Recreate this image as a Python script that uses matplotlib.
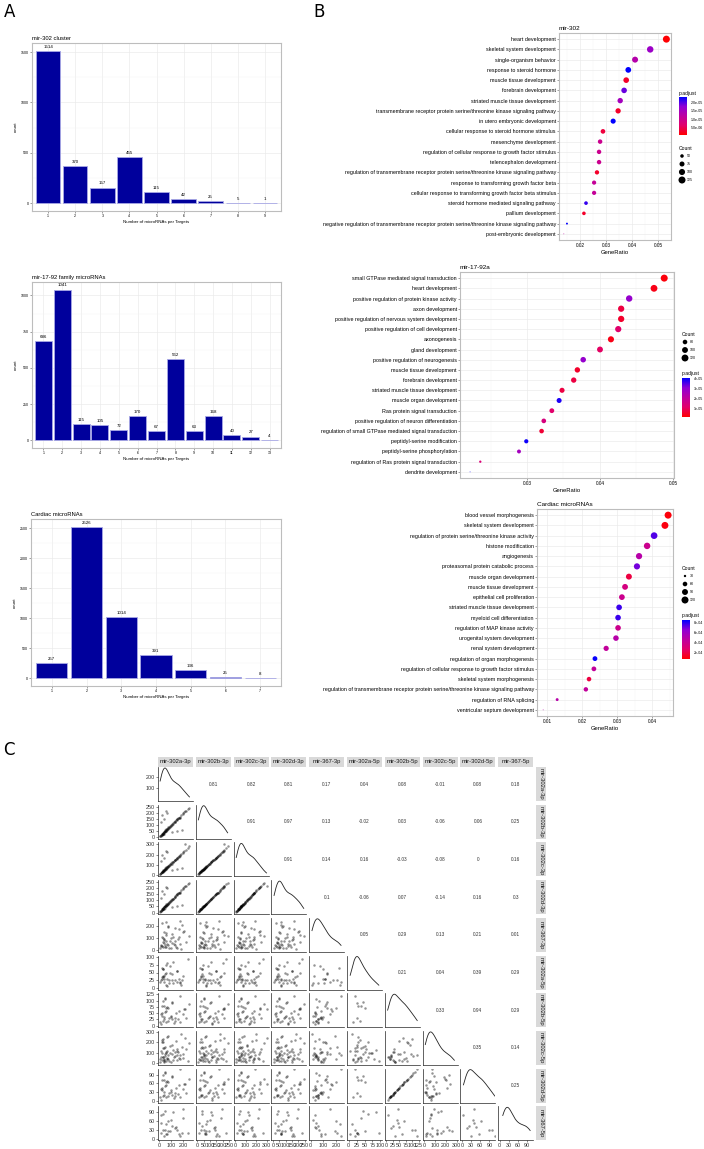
import numpy as np
import matplotlib
matplotlib.use('Agg')
import matplotlib.pyplot as plt
from matplotlib.colors import LinearSegmentedColormap, Normalize
from matplotlib.cm import ScalarMappable
from matplotlib.patches import Rectangle
from matplotlib.ticker import MultipleLocator

plt.rcParams['font.family'] = ['Liberation Sans', 'DejaVu Sans']

# ---- panel A data (targets per number of microRNAs)
a1_title = 'mir-302 cluster'
a1_counts = [1514, 370, 157, 455, 115, 42, 25, 5, 1]
a2_title = 'mir-17-92 family microRNAs'
a2_counts = [686, 1041, 115, 105, 72, 170, 67, 562, 63, 168, 40, 27, 4]
a3_title = 'Cardiac microRNAs'
a3_counts = [257, 2526, 1014, 391, 136, 25, 8]

# ---- panel B data (GO enrichment)
b1_terms = ['heart development', 'skeletal system development', 'single-organism behavior',
            'response to steroid hormone', 'muscle tissue development', 'forebrain development',
            'striated muscle tissue development',
            'transmembrane receptor protein serine/threonine kinase signaling pathway',
            'in utero embryonic development', 'cellular response to steroid hormone stimulus',
            'mesenchyme development', 'regulation of cellular response to growth factor stimulus',
            'telencephalon development',
            'regulation of transmembrane receptor protein serine/threonine kinase signaling pathway',
            'response to transforming growth factor beta',
            'cellular response to transforming growth factor beta stimulus',
            'steroid hormone mediated signaling pathway', 'pallium development',
            'negative regulation of transmembrane receptor protein serine/threonine kinase signaling pathway',
            'post-embryonic development']
b1_ratio = [0.0531, 0.0469, 0.0411, 0.0385, 0.0377, 0.0369, 0.0354, 0.0346, 0.0327, 0.0288,
            0.0277, 0.0273, 0.0273, 0.0265, 0.0254, 0.0254, 0.0223, 0.0215, 0.0150, 0.0138]
b1_count = [125, 110, 97, 91, 89, 87, 83, 81, 77, 68, 65, 64, 64, 62, 60, 60, 52, 51, 35, 32]
b1_padj = [1.0e-6, 1.6e-5, 1.3e-5, 2.3e-5, 3.0e-6, 1.9e-5, 1.5e-5, 3.0e-6, 2.3e-5, 4.0e-6,
           1.0e-5, 1.0e-5, 1.0e-5, 3.0e-6, 1.1e-5, 1.1e-5, 2.1e-5, 3.0e-6, 2.3e-5, 1.2e-5]

b2_terms = ['small GTPase mediated signal transduction', 'heart development',
            'positive regulation of protein kinase activity', 'axon development',
            'positive regulation of nervous system development',
            'positive regulation of cell development', 'axonogenesis', 'gland development',
            'positive regulation of neurogenesis', 'muscle tissue development',
            'forebrain development', 'striated muscle tissue development',
            'muscle organ development', 'Ras protein signal transduction',
            'positive regulation of neuron differentiation',
            'regulation of small GTPase mediated signal transduction',
            'peptidyl-serine modification', 'peptidyl-serine phosphorylation',
            'regulation of Ras protein signal transduction', 'dendrite development']
b2_ratio = [0.0488, 0.0474, 0.0440, 0.0429, 0.0429, 0.0425, 0.0415, 0.0400, 0.0377, 0.0369,
            0.0364, 0.0348, 0.0344, 0.0334, 0.0323, 0.0320, 0.0299, 0.0289, 0.0236, 0.0222]
b2_count = [122, 118, 110, 107, 107, 106, 104, 100, 94, 92, 91, 87, 86, 83, 81, 80, 75, 72, 59, 55]
b2_padj = [3e-6, 4e-6, 3.0e-5, 8e-6, 6e-6, 1.2e-5, 4e-6, 1.1e-5, 3.0e-5, 6e-6,
           8e-6, 8e-6, 3.9e-5, 1.2e-5, 1.5e-5, 7e-6, 4.0e-5, 2.7e-5, 1.4e-5, 4.0e-5]

b3_terms = ['blood vessel morphogenesis', 'skeletal system development',
            'regulation of protein serine/threonine kinase activity', 'histone modification',
            'angiogenesis', 'proteasomal protein catabolic process', 'muscle organ development',
            'muscle tissue development', 'epithelial cell proliferation',
            'striated muscle tissue development', 'myeloid cell differentiation',
            'regulation of MAP kinase activity', 'urogenital system development',
            'renal system development', 'regulation of organ morphogenesis',
            'regulation of cellular response to growth factor stimulus',
            'skeletal system morphogenesis',
            'regulation of transmembrane receptor protein serine/threonine kinase signaling pathway',
            'regulation of RNA splicing', 'ventricular septum development']
b3_ratio = [0.0446, 0.0437, 0.0406, 0.0386, 0.0363, 0.0357, 0.0334, 0.0323, 0.0314, 0.0306,
            0.0303, 0.0303, 0.0297, 0.0269, 0.0237, 0.0234, 0.0220, 0.0211, 0.0129, 0.0089]
b3_count = [120, 118, 110, 104, 98, 96, 90, 87, 85, 83, 82, 82, 80, 73, 64, 63, 59, 57, 35, 24]
b3_padj = [1.0e-4, 1.1e-4, 7.5e-4, 4.0e-4, 5.0e-4, 7.0e-4, 2.0e-4, 3.5e-4, 4.0e-4, 7.8e-4,
           7.8e-4, 4.0e-4, 5.0e-4, 4.5e-4, 8.5e-4, 4.5e-4, 2.0e-4, 4.5e-4, 5.0e-4, 5.0e-4]

# ---- panel C data (pairs of expression per target)
NA = np.nan
mir_names = ['mir-302a-3p', 'mir-302b-3p', 'mir-302c-3p', 'mir-302d-3p', 'mir-367-3p',
             'mir-302a-5p', 'mir-302b-5p', 'mir-302c-5p', 'mir-302d-5p', 'mir-367-5p']
v302a_3p = [6, 12, 18, 24, 30, 35, 41, 47, 52, 58, 63, 70, 76, 83, 90, 98, 105, 114, 122, 131,
            140, 150, 161, 172, 185, 198, 212, 226, 240, 255, 9, 15, 21, 27, 33, 38, 44, 50, 56, 62,
            68, 74, 81, 88, 96, 104, 118, 135, 152, 170, 14, 26, 39, 53, 67, 110, 145, 190, 20, 32,
            45, 150, 175, 200, 28, 40, 60, 130, 165, 220]
v302b_3p = [10, 15, 20, 22, 35, 30, 45, 50, 48, 62, 60, 72, 80, 78, 95, 92, 110, 108, 120, 128,
            138, 145, 155, 168, 178, 190, 205, 215, 228, 240, 8, 12, 25, 30, 28, 42, 40, 55, 52, 66,
            64, 70, 85, 84, 100, 98, 112, 130, 148, 160, 120, 180, 150, 210, 200, 40, 50, 60, 25, 38,
            50, 140, 160, 195, 30, 45, 65, 125, 158, 210]
v302c_3p = [12, 18, 26, 28, 40, 36, 52, 58, 56, 72, 70, 84, 92, 90, 110, 106, 126, 124, 138, 148,
            158, 166, 178, 192, 204, 218, 235, 246, 262, 280, 10, 15, 30, 34, 32, 48, 46, 63, 60, 76,
            74, 80, 98, 96, 115, 112, 128, 150, 170, 184, 135, 200, 170, 240, 226, 48, 58, 70, 30, 44,
            56, 160, 182, 225, 35, 52, 75, 142, 180, 300]
v302d_3p = [11, 16, 21, 24, 36, 31, 46, 52, 50, 64, 61, 74, 82, 80, 97, 94, 112, 110, 122, 131,
            140, 148, 158, 170, 181, 193, 208, 218, 231, 244, 9, 13, 26, 31, 29, 43, 41, 57, 54, 67,
            66, 72, 87, 85, 102, 100, 115, 132, 150, 163, 118, 178, 152, 212, 203, 42, 52, 63, 27, 40,
            52, 142, 163, 198, 32, 47, 67, 128, 160, 213]
v367_3p = [20, NA, 35, 110, NA, 60, 150, NA, 25, 80, NA, 45, 200, 15, NA, 100, 130, NA, 55, 180,
           30, NA, 90, 240, 10, NA, 160, 70, NA, 120, NA, 40, 220, NA, 65, 95, NA, 30, 140, NA,
           50, 190, NA, 75, 20, NA, 105, 45, NA, 170, 35, NA, 85, 125, NA, 60, 15, 210, NA, 100,
           40, NA, 55, 150, 25, NA, 230, 80, 110, NA]
v302a_5p = [NA, 25, NA, 30, 60, NA, 20, NA, 75, NA, 30, NA, NA, 15, 50, NA, 45, 85, NA, 25,
            NA, 55, NA, 20, 10, 40, NA, NA, 95, NA, 20, NA, 65, 35, NA, 30, 45, NA, NA, 5,
            NA, NA, 25, 70, NA, 25, 15, NA, 55, NA, NA, 35, NA, 50, 80, NA, NA, 25, NA, 60,
            NA, 20, 15, NA, 40, 40, 10, NA, 30, NA]
v302b_5p = [15, NA, 40, 80, NA, 25, NA, 110, NA, 60, NA, 20, 70, NA, NA, 35, 95, NA, 10, NA,
            50, NA, 25, 120, NA, NA, 65, 30, NA, 85, NA, 45, NA, 20, 100, NA, NA, 55, 15, NA,
            75, NA, 30, NA, 40, 90, NA, 20, NA, 60, 5, NA, 35, 70, NA, 25, NA, NA, 50, NA,
            105, NA, 15, 45, NA, 80, NA, 30, NA, 65]
v302c_5p = [40, 120, NA, 200, 60, 30, 150, NA, 100, 20, 250, 80, 45, NA, 170, 10, 90, 130, 60, NA,
            210, 35, 110, 75, 280, 55, NA, 140, 25, 190, 15, NA, 100, 65, 230, 40, 160, 85, NA, 120,
            50, 260, 20, 95, NA, 180, 30, 70, 135, NA, 60, 225, 15, 105, 45, NA, 80, 160, 30, 200,
            70, 120, 40, 90, 150, 20, NA, 110, 55, 240]
v302d_5p = [13, NA, 36, 72, NA, 22, NA, 98, NA, 55, NA, 18, 64, NA, NA, 32, 85, NA, 9, NA,
            45, NA, 23, 108, NA, NA, 58, 27, NA, 76, NA, 41, NA, 18, 90, NA, NA, 50, 14, NA,
            68, NA, 27, NA, 37, 81, NA, 18, NA, 54, 5, NA, 31, 63, NA, 22, NA, NA, 45, NA,
            95, NA, 13, 40, NA, 72, NA, 27, NA, 59]
v367_5p = [NA, 20, NA, NA, 85, NA, NA, 30, NA, 15, NA, NA, 60, NA, 25, NA, NA, 90, NA, NA,
           40, NA, NA, 10, NA, 70, NA, NA, 20, NA, NA, 55, NA, NA, 30, NA, 95, NA, NA, 15,
           NA, 25, NA, NA, 65, NA, NA, 35, NA, NA, 80, NA, 10, NA, NA, 45, NA, 20, NA, NA,
           NA, 30, NA, 100, NA, NA, 50, NA, 15, NA]
corr_text = [
    ['0.81', '0.82', '0.81', '0.17', '0.04', '0.08', '-0.01', '0.08', '0.18'],
    ['0.91', '0.97', '0.13', '-0.02', '0.03', '-0.06', '0.06', '0.25'],
    ['0.91', '0.14', '0.16', '-0.03', '-0.08', '0', '0.16'],
    ['0.1', '-0.06', '0.07', '-0.14', '0.16', '0.3'],
    ['0.05', '0.29', '0.13', '0.21', '0.01'],
    ['0.21', '0.04', '0.39', '0.29'],
    ['0.33', '0.94', '0.29'],
    ['0.35', '0.14'],
    ['0.25'],
]
axis_lims = [(-12, 285), (-12, 265), (-15, 320), (-12, 265), (-12, 265),
             (-5, 105), (-6, 130), (-15, 310), (-5, 110), (-5, 110)]
axis_ticks = [[0, 100, 200], [0, 50, 100, 150, 200, 250], [0, 100, 200, 300],
              [0, 50, 100, 150, 200, 250], [0, 100, 200], [0, 25, 50, 75, 100],
              [0, 25, 50, 75, 100, 125], [0, 100, 200, 300], [0, 30, 60, 90], [0, 30, 60, 90]]

W, H = 704, 1149
fig = plt.figure(figsize=(W / 100, H / 100), dpi=100)


def px_axes(x0, y0, x1, y1):
    return fig.add_axes([x0 / W, 1 - y1 / H, (x1 - x0) / W, (y1 - y0) / H])


cmap = LinearSegmentedColormap.from_list(
    'padj', ['#FF0000', '#E2006A', '#BE00A0', '#9000D4', '#0000FF'])


def bar_panel(box, title, values, ystep):
    ax = px_axes(*box)
    xs = np.arange(1, len(values) + 1)
    ax.bar(xs, values, width=0.9, color='#00009C', edgecolor='#A8A8E6', linewidth=0.6, zorder=3)
    for x, v in zip(xs, values):
        ax.annotate(str(v), (x, v), xytext=(0, 1.5), textcoords='offset points',
                    ha='center', va='bottom', fontsize=3.2)
    top = max(values)
    ax.set_xlim(0.4, len(values) + 0.6)
    ax.set_ylim(-top * 0.05, top * 1.05)
    ax.set_xticks(xs)
    ax.yaxis.set_major_locator(MultipleLocator(ystep))
    ax.yaxis.set_minor_locator(MultipleLocator(ystep / 2))
    ax.set_axisbelow(True)
    ax.grid(which='major', color='#EBEBEB', lw=0.5)
    ax.grid(which='minor', axis='y', color='#F4F4F4', lw=0.3)
    for s in ax.spines.values():
        s.set_color('#BDBDBD')
        s.set_linewidth(0.8)
    ax.tick_params(labelsize=2.6, length=1.2, width=0.4, color='#555555', pad=1)
    ax.tick_params(which='minor', length=0)
    ax.set_xlabel('Number of microRNAs per Targets', fontsize=3.2, labelpad=1.5)
    ax.set_ylabel('count', fontsize=3.2, labelpad=2)
    ax.set_title(title, loc='left', fontsize=4.2, pad=2)


bar_panel((32, 43, 281, 211), a1_title, a1_counts, 500)
bar_panel((32, 282, 281, 448), a2_title, a2_counts, 250)
bar_panel((31, 519, 281, 686), a3_title, a3_counts, 500)


def dot_size(c, cmin, cmax):
    r = (np.asarray(c, float) - cmin) / (cmax - cmin)
    d = 0.8 + np.sqrt(np.clip(r, 0, 1)) * 6.2
    return (d * 0.72) ** 2


def dot_panel(box, title, terms, ratio, count, padj, xlim, xticks, norm):
    ax = px_axes(*box)
    y = np.arange(len(terms))
    ax.scatter(ratio, y, s=dot_size(count, min(count), max(count)), c=padj, cmap=cmap,
               norm=norm, linewidths=0, zorder=3)
    ax.set_yticks(y)
    ax.set_yticklabels(terms)
    ax.set_ylim(len(terms) - 0.4, -0.6)
    ax.set_xlim(*xlim)
    ax.set_xticks(xticks)
    ax.set_xticklabels(['%g' % t for t in xticks])
    ax.xaxis.set_minor_locator(MultipleLocator(0.005))
    ax.set_axisbelow(True)
    ax.grid(which='major', color='#EBEBEB', lw=0.5)
    ax.grid(which='minor', axis='x', color='#F4F4F4', lw=0.3)
    for s in ax.spines.values():
        s.set_color('#BDBDBD')
        s.set_linewidth(0.8)
    ax.tick_params(axis='y', labelsize=3.85, length=1.2, width=0.4, color='#555555', pad=1)
    ax.tick_params(axis='x', labelsize=3.4, length=1.2, width=0.4, color='#555555', pad=1)
    ax.tick_params(which='minor', length=0)
    ax.set_xlabel('GeneRatio', fontsize=4.2, labelpad=1.5)
    ax.set_title(title, loc='left', fontsize=4.6, pad=2)
    return ax


norm1 = Normalize(0.8e-6, 2.3e-5)
norm2 = Normalize(2e-6, 4.1e-5)
norm3 = Normalize(0.8e-4, 8.6e-4)
dot_panel((559, 33, 671, 240), 'mir-302', b1_terms, b1_ratio, b1_count, b1_padj,
          (0.01195, 0.05487), [0.02, 0.03, 0.04, 0.05], norm1)
dot_panel((460, 272, 674, 478), 'mir-17-92a', b2_terms, b2_ratio, b2_count, b2_padj,
          (0.02082, 0.05014), [0.03, 0.04, 0.05], norm2)
dot_panel((537, 509, 673, 716), 'Cardiac microRNAs', b3_terms, b3_ratio, b3_count, b3_padj,
          (0.00714, 0.046), [0.01, 0.02, 0.03, 0.04], norm3)


def colorbar(box, norm, ticks, labels):
    cax = px_axes(*box)
    cb = fig.colorbar(ScalarMappable(norm=norm, cmap=cmap), cax=cax)
    cb.set_ticks(ticks)
    cb.set_ticklabels(labels)
    cb.outline.set_visible(False)
    cb.ax.tick_params(labelsize=2.6, length=1.5, width=0.4, color='white', pad=1)


colorbar((679, 97, 687, 135), norm1, [5e-6, 1e-5, 1.5e-5, 2e-5],
         ['5.0e-06', '1.0e-05', '1.5e-05', '2.0e-05'])
colorbar((682, 378, 690, 417), norm2, [1e-5, 2e-5, 3e-5, 4e-5],
         ['1e-05', '2e-05', '3e-05', '4e-05'])
colorbar((682, 620, 690, 659), norm3, [2e-4, 4e-4, 6e-4, 8e-4],
         ['2e-04', '4e-04', '6e-04', '8e-04'])

# ---- panel C: pairs matrix
series = [np.array(v, float) for v in (v302a_3p, v302b_3p, v302c_3p, v302d_3p, v367_3p,
                                       v302a_5p, v302b_5p, v302c_5p, v302d_5p, v367_5p)]
nvar = len(series)
px0, py0, pitch_x, pitch_y, pw, ph = 158, 767, 37.8, 37.7, 35, 34


def density(v):
    v = v[~np.isnan(v)]
    bw = 1.06 * v.std() * len(v) ** (-0.2)
    grid = np.linspace(v.min(), v.max(), 200)
    d = np.exp(-0.5 * ((grid[:, None] - v[None, :]) / bw) ** 2).sum(axis=1)
    return grid, d / d.max()


for i in range(nvar):
    for j in range(nvar):
        x0 = px0 + j * pitch_x
        y0 = py0 + i * pitch_y
        ax = px_axes(x0, y0, x0 + pw, y0 + ph)
        ax.set_xlim(*axis_lims[j])
        ax.set_ylim(*axis_lims[i])
        ax.patch.set_alpha(0)
        for side in ('top', 'right'):
            ax.spines[side].set_visible(False)
        ax.tick_params(labelsize=3.9, length=1.5, width=0.4, color='#333333',
                       labelcolor='#333333', pad=0.8)
        if j > i:
            ax.text(0.5, 0.5, corr_text[i][j - i - 1], transform=ax.transAxes,
                    ha='center', va='center', fontsize=3.4, color='#333333')
            for s in ax.spines.values():
                s.set_visible(False)
            ax.set_xticks([])
            ax.set_yticks([])
            continue
        if i == j:
            gx, gd = density(series[i])
            lo, hi = axis_lims[i]
            ax.plot(gx, lo + gd * (hi - lo) * 0.97, color='#222222', lw=0.6)
        else:
            ok = ~np.isnan(series[j]) & ~np.isnan(series[i])
            ax.scatter(series[j][ok], series[i][ok], s=3.2, color='black', alpha=0.42,
                       linewidths=0)
        for side in ('left', 'bottom'):
            ax.spines[side].set_linewidth(0.5)
            ax.spines[side].set_color('#222222')
        if j == 0:
            ax.set_yticks([100, 200] if i == 0 else axis_ticks[i])
        else:
            ax.set_yticks([])
        if i == nvar - 1:
            ax.set_xticks(axis_ticks[j])
        else:
            ax.set_xticks([])

# overlay for strips, legends and panel letters
ov = fig.add_axes([0, 0, 1, 1], zorder=10)
ov.set_xlim(0, W)
ov.set_ylim(H, 0)
ov.axis('off')
ov.patch.set_alpha(0)

for k, name in enumerate(mir_names):
    x0 = px0 + k * pitch_x
    ov.add_patch(Rectangle((x0, 757), pw, 9.5, color='#D9D9D9', lw=0))
    ov.text(x0 + pw / 2, 762, name, ha='center', va='center', fontsize=4.2, color='#1A1A1A')
    y0 = py0 + k * pitch_y
    ov.add_patch(Rectangle((536, y0), 9.5, ph, color='#D9D9D9', lw=0))
    ov.text(540.8, y0 + ph / 2, name, ha='center', va='center', fontsize=4.2,
            rotation=-90, color='#1A1A1A')


def size_legend(x, y_title, values, ys, cmin, cmax):
    ov.text(x, y_title, 'Count', fontsize=3.6, va='center', ha='left')
    ov.scatter([x + 3] * len(values), ys, s=dot_size(values, cmin, cmax), color='black',
               linewidths=0)
    for v, yy in zip(values, ys):
        ov.text(x + 8, yy, str(v), fontsize=2.6, va='center', ha='left')


size_legend(679, 148, [50, 75, 100, 125], [156, 164, 172, 180], min(b1_count), max(b1_count))
size_legend(682, 334, [80, 100, 120], [342, 350, 358], min(b2_count), max(b2_count))
size_legend(682, 568, [30, 60, 90, 120], [576, 584, 592, 600], min(b3_count), max(b3_count))
for x, y in [(679, 93), (682, 374), (682, 616)]:
    ov.text(x, y, 'p.adjust', fontsize=3.6, va='center', ha='left')

for label, x, y in [('A', 10, 12), ('B', 319, 12), ('C', 9, 750)]:
    ov.text(x, y, label, fontsize=12, ha='center', va='center', family='DejaVu Sans')

fig.savefig('out.png', dpi=100)
